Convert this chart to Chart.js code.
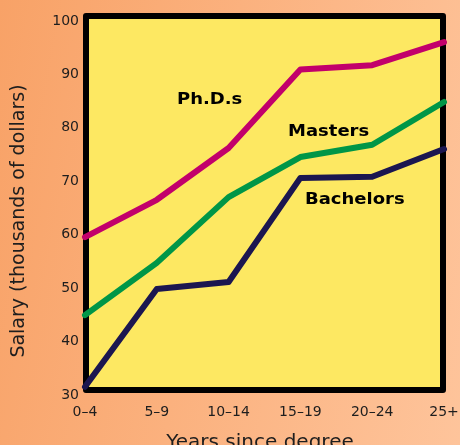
<!DOCTYPE html>
<html>
<head>
<meta charset="utf-8">
<script src="https://cdn.jsdelivr.net/npm/chart.js@4"></script>
<style>
    html, body { margin: 0; padding: 0; }
    body {
        width: 460px;
        height: 445px;
        overflow: hidden;
        background: linear-gradient(100deg, #f8a267 0%, #fbb17e 45%, #fec49b 100%);
    }
    #chart_holder { position: relative; width: 460px; height: 445px; }
</style>
</head>
<body>
<div id="chart_holder"><canvas id="salary_chart"></canvas></div>
<script>
let yearLabels = ["0\u20134", "5\u20139", "10\u201314", "15\u201319", "20\u201324", "25+"];
let phdSalaries = [58.6, 65.6, 75.3, 90.0, 90.8, 95.1];
let mastersSalaries = [44.0, 53.8, 66.1, 73.6, 75.9, 83.9];
let bachelorsSalaries = [30.6, 48.9, 50.2, 69.7, 69.9, 75.1];
let yTicks = [30, 40, 50, 60, 70, 80, 90, 100];

let tickFont = { family: "DejaVu Sans", size: 14 };
let textColor = "#1e1e1e";

// yellow box with heavy black frame, drawn under the lines
let plotFrame = {
    id: "plotFrame",
    beforeDatasetsDraw(chart){
        let ctx = chart.ctx;
        let a = chart.chartArea;
        ctx.save();
        ctx.fillStyle = "#fde862";
        ctx.fillRect(a.left, a.top, a.right - a.left, a.bottom - a.top);
        ctx.strokeStyle = "#000000";
        ctx.lineWidth = 6;
        ctx.lineJoin = "round";
        ctx.strokeRect(a.left + 1, a.top, a.right - a.left - 2, a.bottom - a.top);
        ctx.restore();
    }
};

function wideText(ctx, text, x, y){
    ctx.save();
    ctx.translate(x, y);
    ctx.scale(1.2, 1);
    ctx.fillText(text, 0, 0);
    ctx.restore();
}

// series names and axis titles
let chartTexts = {
    id: "chartTexts",
    afterDraw(chart){
        let ctx = chart.ctx;
        ctx.save();
        ctx.fillStyle = "#000000";
        ctx.font = "bold 15px 'DejaVu Sans'";
        ctx.textBaseline = "alphabetic";
        ctx.textAlign = "left";
        wideText(ctx, "Ph.D.s", 177, 104);
        wideText(ctx, "Masters", 288, 136);
        wideText(ctx, "Bachelors", 305, 204);

        ctx.fillStyle = textColor;
        ctx.font = "20px 'DejaVu Sans'";
        ctx.textAlign = "center";
        ctx.fillText("Years since degree", 260, 448);

        ctx.font = "19px 'DejaVu Sans'";
        ctx.translate(24, 221);
        ctx.rotate(-Math.PI / 2);
        ctx.fillText("Salary (thousands of dollars)", 0, 0);
        ctx.restore();
    }
};

function makeLine(label, data, color){
    return {
        label: label,
        data: data,
        borderColor: color,
        borderWidth: 6,
        borderCapStyle: "round",
        borderJoinStyle: "round",
        pointRadius: 0,
        tension: 0,
        fill: false,
        clip: 10
    };
}

new Chart(document.getElementById("salary_chart"), {
    type: "line",
    data: {
        labels: yearLabels,
        datasets: [
            makeLine("Ph.D.s", phdSalaries, "#c2006b"),
            makeLine("Masters", mastersSalaries, "#009647"),
            makeLine("Bachelors", bachelorsSalaries, "#1b1650")
        ]
    },
    options: {
        responsive: true,
        maintainAspectRatio: false,
        animation: false,
        layout: { padding: { left: 0, right: 16, top: 16, bottom: 0 } },
        plugins: {
            legend: { display: false },
            tooltip: { enabled: false }
        },
        scales: {
            x: {
                offset: false,
                grid: { display: false, drawTicks: false },
                border: { display: false },
                ticks: { font: tickFont, color: textColor, padding: 14, maxRotation: 0, autoSkip: false },
                afterFit(scale){
                    scale.height = 55;
                    scale.paddingLeft = 0;
                    scale.paddingRight = 0;
                }
            },
            y: {
                min: 30,
                max: 100,
                grid: { display: false, drawTicks: false },
                border: { display: false },
                afterBuildTicks(scale){ scale.ticks = yTicks.map(v => ({ value: v })); },
                ticks: { font: tickFont, color: textColor, padding: 6, labelOffset: 5 },
                afterFit(scale){ scale.width = 85; }
            }
        }
    },
    plugins: [plotFrame, chartTexts]
});
</script>
</body>
</html>
